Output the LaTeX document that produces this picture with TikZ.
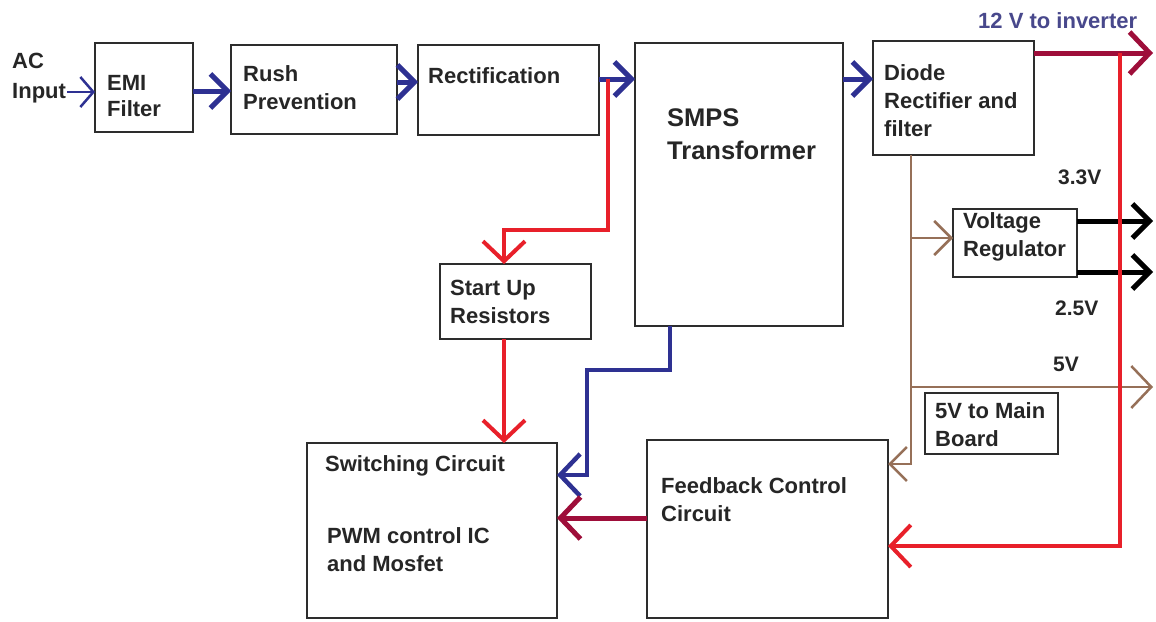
\documentclass[tikz,border=0pt]{standalone}
\usepackage{fontspec}
\setmainfont{Liberation Sans}
\usetikzlibrary{arrows.meta}
\definecolor{blueA}{RGB}{46,49,146}
\definecolor{redA}{RGB}{232,32,42}
\definecolor{crim}{RGB}{158,14,58}
\definecolor{brownA}{RGB}{150,112,88}
\definecolor{tgray}{RGB}{38,38,38}
\definecolor{bgray}{RGB}{45,45,45}
\definecolor{vblue}{RGB}{72,72,140}
\begin{document}
\begin{tikzpicture}[x=1pt,y=-1pt,
  box/.style={draw=bgray,line width=1.6pt,inner sep=0pt,outer sep=0pt,anchor=north west},
  txt/.style={font=\fontsize{22}{28}\selectfont\bfseries,text=tgray,align=left,inner sep=0pt,anchor=west},
  tipL/.style={-{Straight Barb[length=20pt,width=42pt]}},
  tipM/.style={-{Straight Barb[length=17pt,width=34pt]}},
  tipS/.style={-{Straight Barb[length=13pt,width=30pt]}},
  bluethick/.style={draw=blueA,line width=5pt},
  redline/.style={draw=redA,line width=4pt},
  crimline/.style={draw=crim,line width=5pt},
  brownline/.style={draw=brownA,line width=2.5pt},
  blackline/.style={draw=black,line width=5pt}]
\useasboundingbox (0,0) rectangle (1156,621);
\fill[white] (0,0) rectangle (1156,621);

% boxes
\node[box,minimum width=98pt,minimum height=89pt] (emi) at (95,43) {};
\node[box,minimum width=166pt,minimum height=89pt] (rush) at (231,45) {};
\node[box,minimum width=181pt,minimum height=90pt] (rect) at (418,45) {};
\node[box,minimum width=208pt,minimum height=283pt] (smps) at (635,43) {};
\node[box,minimum width=161pt,minimum height=114pt] (diode) at (873,41) {};
\node[box,minimum width=124pt,minimum height=68pt] (vreg) at (953,209) {};
\node[box,minimum width=133pt,minimum height=61pt] (main5) at (925,393) {};
\node[box,minimum width=151pt,minimum height=75pt] (start) at (440,264) {};
\node[box,minimum width=250pt,minimum height=175pt] (sw) at (307,443) {};
\node[box,minimum width=241pt,minimum height=178pt] (fb) at (647,440) {};

% texts
\node[txt,font=\fontsize{22}{30}\selectfont\bfseries] (tac) at (12,78) {AC\\Input};
\node[txt,font=\fontsize{22}{26}\selectfont\bfseries] (temi) at (107,96) {EMI\\Filter};
\node[txt] (trush) at (243,88) {Rush\\Prevention};
\node[txt] (trect) at (428,76) {Rectification};
\node[txt,font=\fontsize{25.5}{33}\selectfont\bfseries] (tsmps) at (667,134) {SMPS\\Transformer};
\node[txt] (tdiode) at (884,101) {Diode\\Rectifier and\\filter};
\node[txt] (tvreg) at (963,237) {Voltage\\Regulator};
\node[txt,font=\fontsize{21}{28}\selectfont\bfseries] (t33) at (1058,177) {3.3V};
\node[txt,font=\fontsize{21}{28}\selectfont\bfseries] (t25) at (1055,308) {2.5V};
\node[txt,font=\fontsize{21}{28}\selectfont\bfseries] (t5) at (1053,364) {5V};
\node[txt] (tmain) at (935,425) {5V to Main\\Board};
\node[txt] (tstart) at (450,302) {Start Up\\Resistors};
\node[txt] (tsw) at (325,466) {Switching Circuit};
\node[txt] (tpwm) at (327,550) {PWM control IC\\and Mosfet};
\node[txt] (tfb) at (661,500) {Feedback Control\\Circuit};
\node[txt,text=vblue] (t12) at (978,21) {12 V to inverter};

% free ends
\coordinate (acpt) at (67,92);
\coordinate (tap) at (608,79);
\coordinate (bend) at (608,230);
\coordinate (out12) at (1153,53);
\coordinate (out33) at (1153,221);
\coordinate (out25) at (1153,272);
\coordinate (out5) at (1153,387);
\coordinate (br) at ([xshift=-42.5pt]diode.south);
\coordinate (rv) at (1120,53);

% blue main chain
\draw[draw=blueA,line width=2.5pt,tipS] (acpt) -- (acpt -| emi.west);
\draw[bluethick,tipM] ([yshift=-3.5pt]emi.east) -- ([yshift=-3.5pt]emi.east -| rush.west);
\draw[bluethick,tipM] ([yshift=7.5pt]rush.east) -- ([yshift=7.5pt]rush.east -| rect.west);
\draw[bluethick,tipM] ([yshift=11pt]rect.east) -- ([yshift=11pt]rect.east -| smps.west);
\draw[bluethick,tipM] ([yshift=19pt]diode.west -| smps.east) -- ([yshift=19pt]diode.west);

% start-up path
\draw[redline,tipL] (tap) -- (bend) -| ([xshift=-11.5pt]start.north);
\draw[redline,tipL] ([xshift=-11.5pt]start.south) -- ([xshift=-11.5pt]start.south |- sw.north);

% SMPS to switching
\draw[draw=blueA,line width=4.5pt,tipL,line join=miter] ([xshift=-69pt]smps.south) -- ++(0,44) -- ++(-83,0) |- ([yshift=55.5pt]sw.east);

% feedback to switching
\draw[crimline,tipL] ([yshift=11pt]fb.west) -- ([yshift=11pt]fb.west -| sw.east);

% brown distribution
\draw[brownline,tipM] (br) |- ([yshift=65pt]fb.east);
\draw[brownline,tipM] ([yshift=5pt]vreg.west -| br) -- ([yshift=5pt]vreg.west);
\draw[brownline,tipL] (out5 -| br) -- (out5);

% black regulator outputs
\draw[blackline,tipM] (out33 -| vreg.east) -- (out33);
\draw[blackline,tipM] (out25 -| vreg.east) -- (out25);

% 12 V
\draw[crimline,tipL] (out12 -| diode.east) -- (out12);
\draw[redline,tipL] (rv) |- ([yshift=-17pt]fb.east);
\end{tikzpicture}
\end{document}
